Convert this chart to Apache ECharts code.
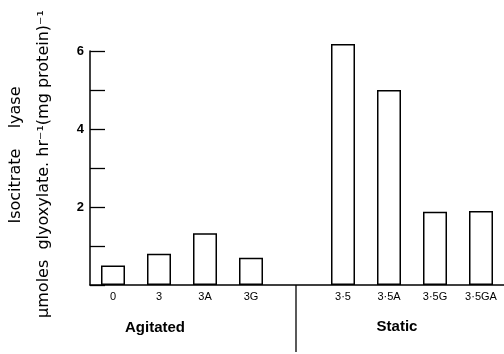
<!DOCTYPE html>
<html>
<head>
<meta charset="utf-8">
<script src="https://cdn.jsdelivr.net/npm/echarts@6/dist/echarts.min.js"></script>
<style>
  html, body { margin: 0; padding: 0; background: #fff; }
  #chart { width: 504px; height: 354px; }
</style>
</head>
<body>
<div id="chart"></div>
<script>
// samples: agitated cultures, a blank slot for the divider, then static cultures
const categories = ['0', '3', '3A', '3G', '', '3·5', '3·5A', '3·5G', '3·5GA']
const activity = [0.5, 0.8, 1.33, 0.7, null, 6.18, 5.0, 1.88, 1.9]
const yLabels = [2, 4, 6]

const font = 'Liberation Sans, Arial, sans-serif'
const wideFont = 'DejaVu Sans, sans-serif'
const chartObj = echarts.init(document.getElementById('chart'))

const chartOption = {
  animation: false,
  grid: {
    top: 51,
    left: 90,
    right: 0,
    bottom: 69
  },
  xAxis: {
    type: 'category',
    data: categories,
    axisLine: { lineStyle: { color: '#000', width: 1.5 } },
    axisTick: { show: false },
    axisLabel: { color: '#000', fontFamily: font, fontSize: 11, margin: 6 }
  },
  yAxis: {
    type: 'value',
    min: 0,
    max: 6,
    interval: 1,
    axisLine: { show: true, lineStyle: { color: '#000', width: 1.5 } },
    axisTick: { show: true, inside: true, length: 15, lineStyle: { color: '#000', width: 1.3 } },
    splitLine: { show: false },
    axisLabel: {
      color: '#000',
      fontFamily: font,
      fontSize: 13,
      fontWeight: 'bold',
      margin: 6,
      formatter: v => (yLabels.indexOf(v) >= 0 ? String(v) : '')
    }
  },
  series: [
    {
      type: 'bar',
      data: activity,
      barWidth: 24,
      clip: false, // the 3·5 bar rises a little above the top tick
      itemStyle: { color: '#fff', borderColor: '#000', borderWidth: 1.5 }
    }
  ]
}

chartObj.setOption(chartOption)

// divider under the blank slot, and the group labels
const divX = Math.round(chartObj.convertToPixel({ xAxisIndex: 0 }, '')) - 1
chartObj.setOption({
  graphic: [
    {
      type: 'line',
      shape: { x1: divX, y1: 285, x2: divX, y2: 352 },
      style: { stroke: '#000', lineWidth: 1.3 }
    },
    {
      type: 'text', x: 155, y: 328,
      style: { text: 'Agitated', font: 'bold 15px ' + font, fill: '#000', align: 'center', verticalAlign: 'middle' }
    },
    {
      type: 'text', x: 397, y: 327,
      style: { text: 'Static', font: 'bold 15px ' + font, fill: '#000', align: 'center', verticalAlign: 'middle' }
    },
    {
      type: 'text', x: 16, y: 155, rotation: Math.PI / 2,
      style: { text: 'Isocitrate    lyase', font: '16px ' + wideFont, fill: '#000', align: 'center', verticalAlign: 'middle' }
    },
    {
      type: 'text', x: 44, y: 164, rotation: Math.PI / 2,
      style: { text: 'μmoles  glyoxylate. hr⁻¹(mg protein)⁻¹', font: '16px ' + wideFont, fill: '#000', align: 'center', verticalAlign: 'middle' }
    }
  ]
})
</script>
</body>
</html>
